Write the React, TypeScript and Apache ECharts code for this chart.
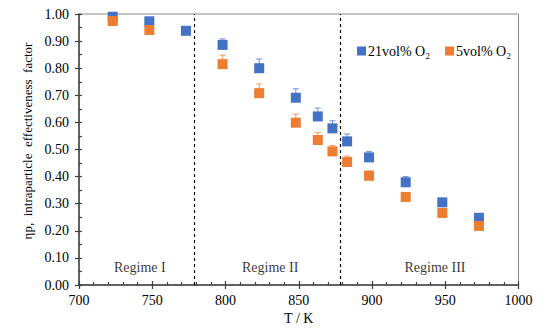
import React, { useEffect, useRef } from "react";
import * as echarts from "echarts";

const temps21 = [723, 748, 773, 798, 823, 848, 863, 873, 883, 898, 923, 948, 973];
const eta21 = [0.99, 0.973, 0.938, 0.886, 0.8, 0.691, 0.622, 0.578, 0.53, 0.471, 0.379, 0.305, 0.248];
const err21 = [0.01, 0.01, 0.01, 0.022, 0.034, 0.033, 0.031, 0.028, 0.027, 0.022, 0.021, 0.012, 0.01];

const temps5 = [723, 748, 798, 823, 848, 863, 873, 883, 898, 923, 948, 973];
const eta5 = [0.974, 0.941, 0.815, 0.708, 0.599, 0.535, 0.493, 0.454, 0.403, 0.325, 0.266, 0.218];
const err5 = [0.01, 0.01, 0.033, 0.034, 0.031, 0.027, 0.022, 0.022, 0.018, 0.012, 0.01, 0.01];

const regimeBounds = [779, 878];
const regimeLabels = ["Regime I", "Regime II", "Regime III"];
const regimeLabelX = [741.5, 830.5, 943];
const regimeLabelY = 0.066;

const seriesNames = ["21vol% O₂", "5vol% O₂"];
const colors = ["#4472C4", "#ED7D31"];
const errColors = ["#6E93D6", "#F29A5E"];

const FONT = "Liberation Serif";

function errorSeries(xs: number[], ys: number[], es: number[], color: string) {
  return {
    type: "custom",
    silent: true,
    z: 1,
    data: xs.map((x, i) => [x, ys[i], es[i]]),
    renderItem: (params: any, api: any) => {
      const x = api.value(0);
      const y = api.value(1);
      const e = api.value(2);
      const top = api.coord([x, y + e]);
      const mid = api.coord([x, y]);
      const hw = 3;
      const style = { stroke: color, lineWidth: 1 };
      return {
        type: "group",
        children: [
          { type: "line", shape: { x1: top[0], y1: top[1], x2: mid[0], y2: mid[1] }, style },
          { type: "line", shape: { x1: top[0] - hw, y1: top[1], x2: top[0] + hw, y2: top[1] }, style },
        ],
      };
    },
  };
}

export default function App() {
  const ref = useRef<HTMLDivElement>(null);
  useEffect(() => {
    if (!ref.current) return;
    const chart = echarts.init(ref.current, undefined, { renderer: "svg" });
    const axisLine = { lineStyle: { color: "#404040", width: 1.5 } };
    const tickStyle = { color: "#404040", width: 1.2 };
    chart.setOption({
      animation: false,
      backgroundColor: "#ffffff",
      textStyle: { fontFamily: FONT },
      grid: {
        left: 79,
        right: 31.5,
        top: 14,
        bottom: 49,
        show: true,
        borderColor: "#8c8c8c",
        borderWidth: 1,
      },
      legend: {
        data: seriesNames,
        left: 352,
        top: 39,
        icon: "rect",
        itemWidth: 9,
        itemHeight: 9,
        itemGap: 15,
        itemStyle: { opacity: 1 },
        textStyle: { fontFamily: FONT, fontSize: 14, color: "#000", padding: [0, 0, 0, -3] },
      },
      xAxis: [
        {
          type: "value",
          min: 700,
          max: 1000,
          interval: 50,
          name: "T / K",
          nameLocation: "middle",
          nameGap: 24,
          nameTextStyle: { fontFamily: FONT, fontSize: 14, color: "#000" },
          axisLine,
          axisTick: { show: true, length: 4, lineStyle: tickStyle },
          axisLabel: {
            fontFamily: FONT,
            fontSize: 14,
            color: "#000",
            margin: 8,
            formatter: (v: number) => String(v),
          },
          splitLine: { show: false },
        },
        {
          type: "value",
          position: "bottom",
          min: 700,
          max: 1000,
          interval: 50,
          axisLine: { show: false },
          axisLabel: { show: false },
          axisTick: { show: true, inside: true, length: 4, lineStyle: tickStyle },
          minorTick: { show: true, splitNumber: 5, length: 3, lineStyle: tickStyle },
          splitLine: { show: false },
        },
      ],
      yAxis: [
        {
          type: "value",
          min: 0,
          max: 1,
          interval: 0.1,
          axisLine,
          axisTick: { show: true, length: 4, lineStyle: tickStyle },
          axisLabel: {
            fontFamily: FONT,
            fontSize: 14,
            color: "#000",
            margin: 10,
            formatter: (v: number) => v.toFixed(2),
          },
          splitLine: { show: false },
        },
        {
          type: "value",
          position: "left",
          min: 0,
          max: 1,
          interval: 0.1,
          axisLine: { show: false },
          axisLabel: { show: false },
          axisTick: { show: true, inside: true, length: 3, lineStyle: tickStyle },
          minorTick: { show: true, splitNumber: 2, length: 3, lineStyle: tickStyle },
          splitLine: { show: false },
        },
      ],
      graphic: [
        {
          type: "text",
          x: 27,
          y: 141,
          rotation: Math.PI / 2,
          style: {
            text: "ηp,  intraparticle  effectiveness  factor",
            fontFamily: FONT,
            fontSize: 13,
            fill: "#000",
            align: "center",
            verticalAlign: "middle",
          },
        },
      ],
      series: [
        errorSeries(temps21, eta21, err21, errColors[0]),
        errorSeries(temps5, eta5, err5, errColors[1]),
        {
          name: seriesNames[0],
          type: "scatter",
          symbol: "rect",
          symbolSize: 10,
          z: 3,
          itemStyle: { color: colors[0], opacity: 1 },
          data: temps21.map((x, i) => [x, eta21[i]]),
          markLine: {
            silent: true,
            symbol: "none",
            label: { show: false },
            lineStyle: { type: [3, 3], color: "#000", width: 1.2 },
            data: regimeBounds.map((b) => ({ xAxis: b })),
          },
        },
        {
          name: seriesNames[1],
          type: "scatter",
          symbol: "rect",
          symbolSize: 10,
          z: 4,
          itemStyle: { color: colors[1], opacity: 1 },
          data: temps5.map((x, i) => [x, eta5[i]]),
        },
        {
          name: "regimes",
          type: "scatter",
          symbolSize: 0,
          silent: true,
          label: {
            show: true,
            position: "inside",
            formatter: (p: any) => regimeLabels[p.dataIndex],
            fontFamily: FONT,
            fontSize: 14,
            color: "#000",
          },
          data: regimeLabelX.map((x) => [x, regimeLabelY]),
        },
      ],
    });
    return () => chart.dispose();
  }, []);
  return (
    <div
      ref={ref}
      style={{ position: "fixed", left: 0, top: 0, width: 550, height: 334 }}
    />
  );
}
